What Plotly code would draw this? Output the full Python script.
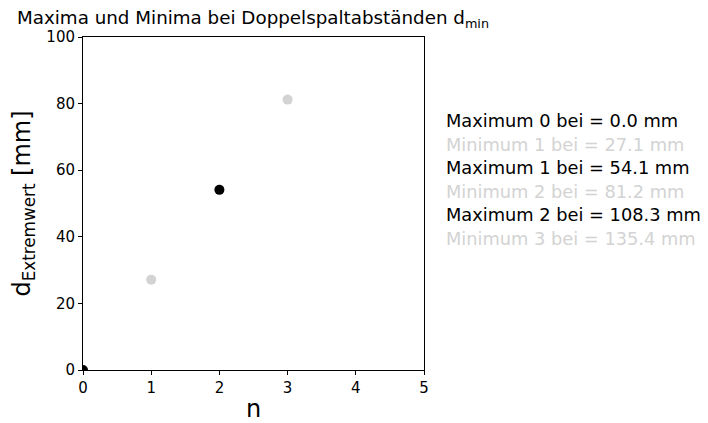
import plotly.graph_objects as go

# Data
n_values = [0, 1, 2, 3]
d_values = [0.0, 27.1, 54.1, 81.2]
point_kind = ["max", "min", "max", "min"]

label_kinds = ["Maximum", "Minimum", "Maximum", "Minimum", "Maximum", "Minimum"]
label_orders = [0, 1, 1, 2, 2, 3]
label_values = [0.0, 27.1, 54.1, 81.2, 108.3, 135.4]

x_ticks = [0, 1, 2, 3, 4, 5]
y_ticks = [0, 20, 40, 60, 80, 100]

kind_color = {"max": "black", "min": "lightgray",
              "Maximum": "black", "Minimum": "lightgray"}

FONT = "DejaVu Sans"
OFF = 8  # browser default body margin
W, H = 708 - OFF, 423 - OFF
L, R, T, B = 83 - OFF, 424 - OFF, 37 - OFF, 370 - OFF

fig = go.Figure()
fig.add_trace(go.Scatter(
    x=n_values, y=d_values, mode="markers",
    marker=dict(color=[kind_color[k] for k in point_kind], size=10,
                line=dict(width=0)),
    showlegend=False, cliponaxis=True,
))

# Right-side text labels
line_y0 = 121 - OFF
line_step = 23.4
for i, (k, o, v) in enumerate(zip(label_kinds, label_orders, label_values)):
    ypix = line_y0 + i * line_step
    fig.add_annotation(
        xref="paper", yref="paper",
        x=(444 - OFF - L) / (R - L), y=(B - ypix) / (B - T),
        xanchor="left", yanchor="middle",
        text=f"{k} {o} bei = {v:.1f} mm",
        showarrow=False,
        font=dict(family=FONT, size=17.8, color=kind_color[k]),
    )

fig.update_layout(
    width=W, height=H,
    margin=dict(l=L, r=W - R, t=T, b=H - B, pad=0),
    paper_bgcolor="white", plot_bgcolor="white",
    font=dict(family=FONT, size=15, color="black"),
    title=dict(text="Maxima und Minima bei Doppelspaltabständen d<sub>min</sub>",
               x=(17 - OFF) / W, xanchor="left", y=1 - (18 - OFF) / H,
               yanchor="middle",
               font=dict(family=FONT, size=18.3, color="black")),
    xaxis=dict(range=[0, 5], tickvals=x_ticks, showgrid=False, zeroline=False,
               showline=True, linecolor="black", linewidth=1, mirror=True,
               ticks="outside", ticklen=4, tickcolor="black", automargin=False,
               tickfont=dict(family=FONT, size=15),
               title=dict(text="n", font=dict(family=FONT, size=24), standoff=15)),
    yaxis=dict(range=[0, 100], tickvals=y_ticks, showgrid=False, zeroline=False,
               showline=True, linecolor="black", linewidth=1, mirror=True,
               ticks="outside", ticklen=4, tickcolor="black", automargin=False,
               tickfont=dict(family=FONT, size=15),
               title=dict(text="d<sub>Extremwert</sub> [mm]",
                          font=dict(family=FONT, size=24), standoff=16)),
)

fig.write_html("out.html")
